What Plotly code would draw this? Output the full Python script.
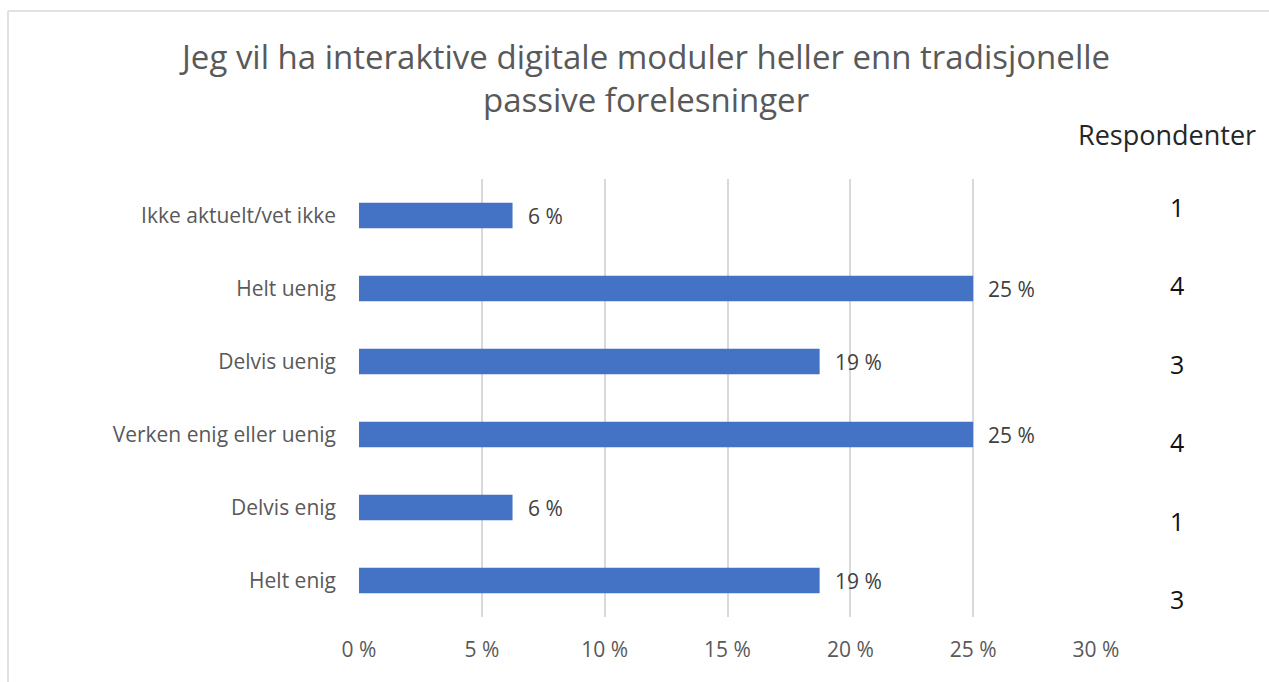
import plotly.graph_objects as go

# Survey answers (top to bottom as shown)
categories = [
    "Ikke aktuelt/vet ikke",
    "Helt uenig",
    "Delvis uenig",
    "Verken enig eller uenig",
    "Delvis enig",
    "Helt enig",
]
respondents = [1, 4, 3, 4, 1, 3]
total = sum(respondents)
shares = [100.0 * r / total for r in respondents]  # percent of respondents

x_ticks = [0, 5, 10, 15, 20, 25, 30]
x_tick_labels = [f"{t} %" for t in x_ticks]

title_text = "Jeg vil ha interaktive digitale moduler heller enn tradisjonelle<br>passive forelesninger"
side_header = "Respondenter"

FONT = "Open Sans"
W, H = 1269, 682
M_L, M_R, M_T, M_B = 359, 173, 179, 65
PW, PH = W - M_L - M_R, H - M_T - M_B


def px_x(px):
    return (px - M_L) / PW


def px_y(py):
    return (H - M_B - py) / PH


fig = go.Figure(
    go.Bar(
        x=shares,
        y=categories,
        orientation="h",
        marker=dict(color="#4472c4", line=dict(width=0)),
        width=0.35,
        hoverinfo="skip",
    )
)

annotations = []
# value labels beside each bar
for cat, val in zip(categories, shares):
    annotations.append(dict(
        x=val, y=cat, xref="x", yref="y",
        text=f"{val:.0f} %", showarrow=False,
        xanchor="left", yanchor="middle", xshift=13,
        font=dict(family=FONT, size=21, color="#404040"),
    ))

# respondent counts column on the right
resp_top, resp_step = 207, 78.4
for i, r in enumerate(respondents):
    annotations.append(dict(
        x=px_x(1177), y=px_y(resp_top + i * resp_step), xref="paper", yref="paper",
        text=str(r), showarrow=False, xanchor="center", yanchor="middle",
        font=dict(family=FONT, size=25, color="#111111"),
    ))

annotations.append(dict(
    x=px_x(1167), y=px_y(135), xref="paper", yref="paper",
    text=side_header, showarrow=False, xanchor="center", yanchor="middle",
    font=dict(family=FONT, size=27, color="#262626"),
))

# chart title, two centred lines
annotations.append(dict(
    x=px_x(644), y=px_y(78), xref="paper", yref="paper",
    text=title_text, showarrow=False, xanchor="center", yanchor="middle",
    align="center",
    font=dict(family=FONT, size=33, color="#595959"),
))

# light frame: top and left edges
shapes = [
    dict(type="line", xref="paper", yref="paper",
         x0=px_x(8), x1=px_x(1270), y0=px_y(11), y1=px_y(11),
         line=dict(color="#d9d9d9", width=1.5)),
    dict(type="line", xref="paper", yref="paper",
         x0=px_x(8), x1=px_x(8), y0=px_y(11), y1=px_y(683),
         line=dict(color="#d9d9d9", width=1.5)),
]

fig.update_layout(
    width=W, height=H,
    margin=dict(l=M_L, r=M_R, t=M_T, b=M_B, autoexpand=False),
    paper_bgcolor="white", plot_bgcolor="white",
    showlegend=False,
    annotations=annotations,
    shapes=shapes,
    xaxis=dict(
        range=[0, 30], tickvals=x_ticks, ticktext=x_tick_labels,
        showgrid=True, gridcolor="#d9d9d9", gridwidth=1.5,
        zeroline=False, showline=False, ticks="",
        ticklabelstandoff=18,
        tickfont=dict(family=FONT, size=21, color="#595959"),
        fixedrange=True,
    ),
    yaxis=dict(
        categoryorder="array", categoryarray=categories[::-1],
        showgrid=False, zeroline=False, showline=False, ticks="",
        ticklabelstandoff=22,
        tickfont=dict(family=FONT, size=21, color="#595959"),
        fixedrange=True,
    ),
)

fig.write_html("out.html")
